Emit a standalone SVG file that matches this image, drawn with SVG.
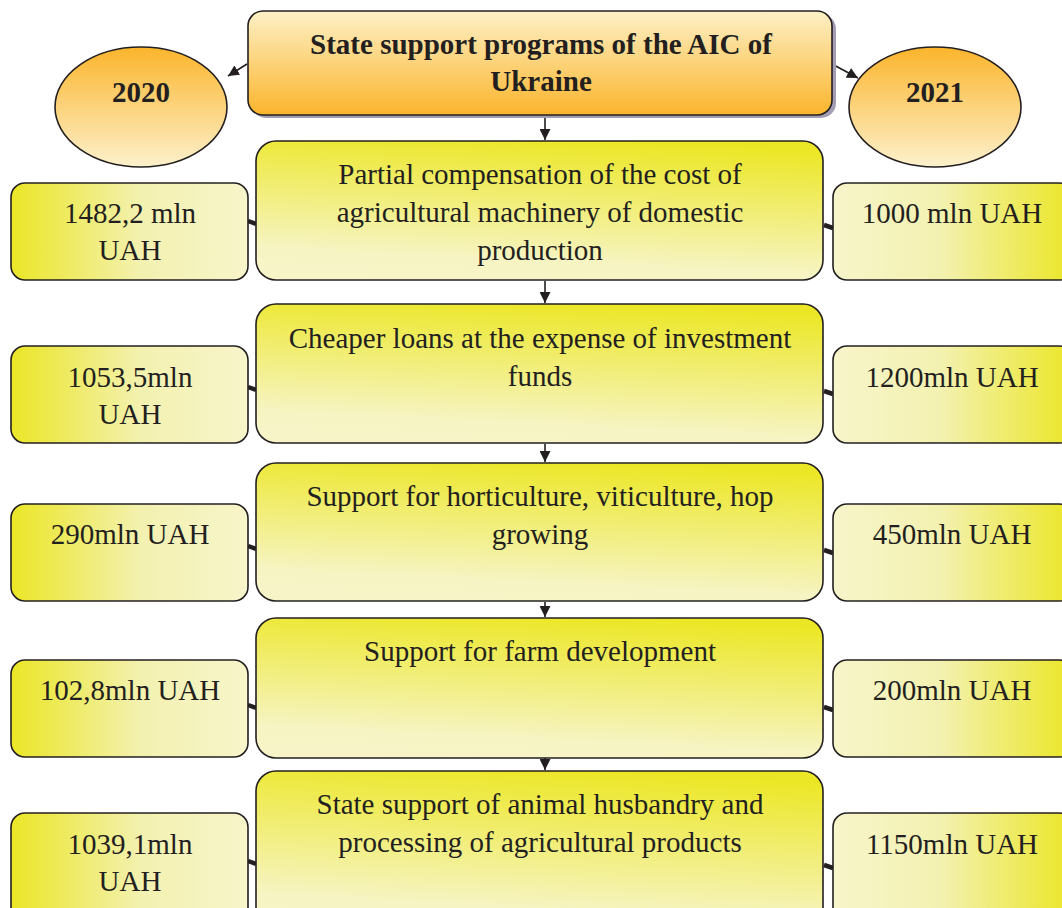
<svg xmlns="http://www.w3.org/2000/svg" width="1062" height="908" viewBox="0 0 1062 908">
<defs>
<linearGradient id="gTitle" x1="0" y1="0" x2="0" y2="1"><stop offset="0" stop-color="#fdf0c6"/><stop offset="1" stop-color="#fbb52c"/></linearGradient>
<linearGradient id="gEll" x1="0" y1="0" x2="0" y2="1"><stop offset="0" stop-color="#fbb52c"/><stop offset="1" stop-color="#fdf1cc"/></linearGradient>
<linearGradient id="gMain" x1="0.6" y1="0" x2="0.4" y2="1"><stop offset="0" stop-color="#ece726"/><stop offset="0.85" stop-color="#f6f4c2"/><stop offset="1" stop-color="#f7f5c8"/></linearGradient>
<linearGradient id="gLeft" x1="0" y1="0" x2="1" y2="0"><stop offset="0" stop-color="#ebe626"/><stop offset="0.55" stop-color="#f3f1b0"/><stop offset="1" stop-color="#f7f5ca"/></linearGradient>
<linearGradient id="gRight" x1="0" y1="0" x2="1" y2="0"><stop offset="0" stop-color="#f7f5ca"/><stop offset="0.45" stop-color="#f3f1b0"/><stop offset="1" stop-color="#ebe626"/></linearGradient>
<marker id="arr" viewBox="0 0 10 10" refX="10" refY="5" markerWidth="11" markerHeight="11" orient="auto" markerUnits="userSpaceOnUse"><path d="M0,0 L10,5 L0,10 z" fill="#231f20"/></marker>
</defs>
<style>
.box{stroke:#231f20;stroke-width:1.6}
.t{font-family:"Liberation Serif","Times New Roman",serif;font-size:29px;fill:#231f20;text-anchor:middle}
.b{font-weight:bold;font-size:29px}
.ln{stroke:#231f20;stroke-width:1.6;fill:none}
.stub{stroke:#231f20;stroke-width:4.5;fill:none}
</style>

<g id="connectors">
<line class="ln" x1="247" y1="64" x2="228" y2="76" marker-end="url(#arr)"/>
<line class="ln" x1="832" y1="64" x2="858" y2="78" marker-end="url(#arr)"/>
<line class="ln" x1="545" y1="116" x2="545" y2="140" marker-end="url(#arr)"/>
<line class="ln" x1="545" y1="281" x2="545" y2="303" marker-end="url(#arr)"/>
<line class="ln" x1="545" y1="444" x2="545" y2="462" marker-end="url(#arr)"/>
<line class="ln" x1="545" y1="602" x2="545" y2="617" marker-end="url(#arr)"/>
<line class="ln" x1="545" y1="758" x2="545" y2="770" marker-end="url(#arr)"/>
<line class="stub" x1="248" y1="221" x2="256" y2="224"/>
<line class="stub" x1="824" y1="225" x2="833" y2="228"/>
<line class="stub" x1="248" y1="387" x2="256" y2="390"/>
<line class="stub" x1="824" y1="391" x2="833" y2="394"/>
<line class="stub" x1="248" y1="546" x2="256" y2="549"/>
<line class="stub" x1="824" y1="550" x2="833" y2="553"/>
<line class="stub" x1="248" y1="705" x2="256" y2="708"/>
<line class="stub" x1="824" y1="707" x2="833" y2="710"/>
<line class="stub" x1="248" y1="861" x2="256" y2="864"/>
<line class="stub" x1="824" y1="865" x2="833" y2="868"/>
</g>

<g id="title">
<rect x="251" y="14" width="585" height="104" rx="15" fill="#a29db3"/>
<rect class="box" x="248" y="11" width="584" height="104" rx="15" fill="url(#gTitle)"/>
<text class="t b" x="541" y="54">State support programs of the AIC of</text>
<text class="t b" x="541" y="91">Ukraine</text>
</g>

<g id="y2020">
<ellipse class="box" cx="141" cy="107" rx="86" ry="60" fill="url(#gEll)"/>
<text class="t b" x="141" y="102">2020</text>
</g>
<g id="y2021">
<ellipse class="box" cx="935" cy="107" rx="86" ry="60" fill="url(#gEll)"/>
<text class="t b" x="935" y="102">2021</text>
</g>

<g id="p1">
<rect class="box" x="256" y="141" width="567" height="139" rx="20" fill="url(#gMain)"/>
<text class="t" x="540" y="184">Partial compensation of the cost of</text>
<text class="t" x="540" y="222">agricultural machinery of domestic</text>
<text class="t" x="540" y="260">production</text>
</g>
<g id="l1">
<rect class="box" x="11" y="183" width="237" height="97" rx="14" fill="url(#gLeft)"/>
<text class="t" x="130" y="223">1482,2 mln</text>
<text class="t" x="130" y="260">UAH</text>
</g>
<g id="r1">
<rect class="box" x="833" y="183" width="240" height="97" rx="14" fill="url(#gRight)"/>
<text class="t" x="952" y="223">1000 mln UAH</text>
</g>

<g id="p2">
<rect class="box" x="256" y="304" width="567" height="139" rx="20" fill="url(#gMain)"/>
<text class="t" x="540" y="348">Cheaper loans at the expense of investment</text>
<text class="t" x="540" y="386">funds</text>
</g>
<g id="l2">
<rect class="box" x="11" y="346" width="237" height="97" rx="14" fill="url(#gLeft)"/>
<text class="t" x="130" y="387">1053,5mln</text>
<text class="t" x="130" y="424">UAH</text>
</g>
<g id="r2">
<rect class="box" x="833" y="346" width="240" height="97" rx="14" fill="url(#gRight)"/>
<text class="t" x="952" y="387">1200mln UAH</text>
</g>

<g id="p3">
<rect class="box" x="256" y="463" width="567" height="138" rx="20" fill="url(#gMain)"/>
<text class="t" x="540" y="506">Support for horticulture, viticulture, hop</text>
<text class="t" x="540" y="544">growing</text>
</g>
<g id="l3">
<rect class="box" x="11" y="504" width="237" height="97" rx="14" fill="url(#gLeft)"/>
<text class="t" x="130" y="544">290mln UAH</text>
</g>
<g id="r3">
<rect class="box" x="833" y="504" width="240" height="97" rx="14" fill="url(#gRight)"/>
<text class="t" x="952" y="544">450mln UAH</text>
</g>

<g id="p4">
<rect class="box" x="256" y="618" width="567" height="140" rx="20" fill="url(#gMain)"/>
<text class="t" x="540" y="661">Support for farm development</text>
</g>
<g id="l4">
<rect class="box" x="11" y="660" width="237" height="97" rx="14" fill="url(#gLeft)"/>
<text class="t" x="130" y="700">102,8mln UAH</text>
</g>
<g id="r4">
<rect class="box" x="833" y="660" width="240" height="97" rx="14" fill="url(#gRight)"/>
<text class="t" x="952" y="700">200mln UAH</text>
</g>

<g id="p5">
<rect class="box" x="256" y="771" width="567" height="160" rx="20" fill="url(#gMain)"/>
<text class="t" x="540" y="814">State support of animal husbandry and</text>
<text class="t" x="540" y="852">processing of agricultural products</text>
</g>
<g id="l5">
<rect class="box" x="11" y="813" width="237" height="118" rx="14" fill="url(#gLeft)"/>
<text class="t" x="130" y="854">1039,1mln</text>
<text class="t" x="130" y="891">UAH</text>
</g>
<g id="r5">
<rect class="box" x="833" y="813" width="240" height="118" rx="14" fill="url(#gRight)"/>
<text class="t" x="952" y="854">1150mln UAH</text>
</g>
</svg>
